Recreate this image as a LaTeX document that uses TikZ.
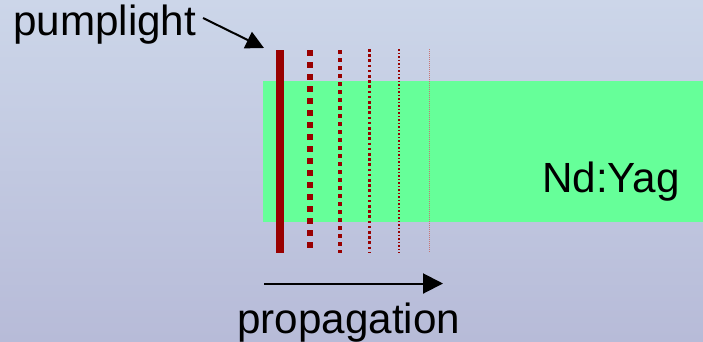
\documentclass[tikz,border=0pt]{standalone}
\usepackage{fontspec}
\setmainfont{Liberation Sans}
\usetikzlibrary{arrows.meta}
\definecolor{bgtop}{RGB}{204,214,233}
\definecolor{bgbot}{RGB}{183,187,216}
\definecolor{crystal}{RGB}{102,255,153}
\definecolor{pump}{RGB}{153,0,0}
\tikzset{
  lbl/.style={inner sep=0pt, anchor=base west, font=\fontsize{42.2}{50}\selectfont},
  arr/.style={line width=2pt, -{Triangle[length=#1pt, width=#1pt]}},
  pulse/.style={draw=pump, line cap=butt, line width=#1pt, dash pattern=on #1pt off #1pt},
}
\begin{document}
\begin{tikzpicture}[x=1pt,y=-1pt]
\useasboundingbox (0,0) rectangle (703,341);
\shade[top color=bgtop, bottom color=bgbot] (0,0) rectangle (703,341);
\fill[crystal] (263,81) rectangle (703,222);
\node[lbl] (ndyag) at (542,192) {Nd:Yag};
\node[lbl] (pumptext) at (13,35) {pumplight};
\node[lbl] (proptext) at (237,333) {propagation};
% pulses
\draw[pump, line width=8pt] (280,50) -- (280,253);
\draw[pulse=6] (309.5,50) -- (309.5,253);
\draw[pulse=4] (339.5,50) -- (339.5,253);
\draw[pulse=2.6] (369.3,49) -- (369.3,253);
\draw[pulse=1.75] (399,49) -- (399,253);
\draw[pulse=1, draw=pump!55] (429,49) -- (429,253);
% arrows
\coordinate (pa) at (203,18);
\coordinate (pb) at (264,48);
\draw[arr=18] (pa) -- (pb);
\coordinate (qa) at (264,283.5);
\coordinate (qb) at (443,283.5);
\draw[arr=20] (qa) -- (qb);
\end{tikzpicture}
\end{document}
